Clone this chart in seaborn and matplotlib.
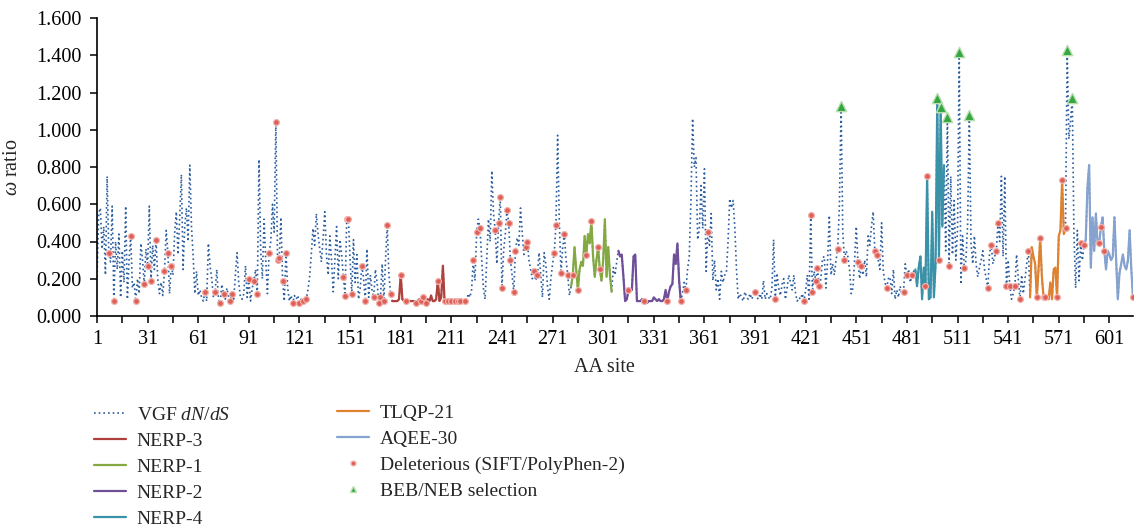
import numpy as np
import pandas as pd
import seaborn as sns
import matplotlib.pyplot as plt
from matplotlib.lines import Line2D

# omega (dN/dS) per amino-acid site (sites 1..615)
omega = [
    0.21, 0.55, 0.58, 0.36, 0.48, 0.22, 0.75, 0.34, 0.29, 0.59,
    0.08, 0.40, 0.25, 0.44, 0.10, 0.35, 0.18, 0.59, 0.09, 0.30,
    0.43, 0.15, 0.18, 0.08, 0.20, 0.12, 0.39, 0.30, 0.17, 0.36,
    0.27, 0.59, 0.19, 0.38, 0.25, 0.41, 0.20, 0.12, 0.18, 0.11,
    0.24, 0.46, 0.34, 0.12, 0.27, 0.22, 0.44, 0.56, 0.33, 0.52,
    0.76, 0.25, 0.48, 0.58, 0.40, 0.81, 0.48, 0.32, 0.12, 0.24,
    0.11, 0.14, 0.10, 0.08, 0.13, 0.08, 0.39, 0.27, 0.20, 0.10,
    0.13, 0.25, 0.09, 0.07, 0.17, 0.12, 0.09, 0.15, 0.10, 0.08,
    0.12, 0.08, 0.22, 0.34, 0.18, 0.10, 0.09, 0.12, 0.27, 0.10,
    0.20, 0.08, 0.15, 0.19, 0.25, 0.12, 0.84, 0.36, 0.20, 0.52,
    0.30, 0.12, 0.34, 0.40, 0.60, 0.45, 1.04, 0.30, 0.31, 0.53,
    0.19, 0.08, 0.34, 0.15, 0.08, 0.11, 0.07, 0.11, 0.09, 0.11,
    0.07, 0.09, 0.08, 0.10, 0.09, 0.14, 0.21, 0.33, 0.47, 0.38,
    0.55, 0.44, 0.36, 0.29, 0.42, 0.56, 0.33, 0.22, 0.43, 0.30,
    0.13, 0.30, 0.48, 0.20, 0.41, 0.33, 0.21, 0.11, 0.52, 0.52,
    0.30, 0.12, 0.41, 0.18, 0.33, 0.09, 0.15, 0.27, 0.20, 0.08,
    0.36, 0.10, 0.22, 0.14, 0.10, 0.25, 0.18, 0.07, 0.10, 0.28,
    0.08, 0.30, 0.49, 0.22, 0.12, 0.08, 0.08, 0.08, 0.08, 0.09,
    0.22, 0.09, 0.08, 0.08, 0.08, 0.08, 0.08, 0.08, 0.08, 0.07,
    0.08, 0.09, 0.08, 0.10, 0.08, 0.07, 0.09, 0.08, 0.11, 0.08,
    0.08, 0.09, 0.19, 0.08, 0.10, 0.27, 0.08, 0.08, 0.08, 0.08,
    0.08, 0.08, 0.08, 0.07, 0.08, 0.08, 0.08, 0.08, 0.08, 0.08,
    0.12, 0.10, 0.14, 0.30, 0.19, 0.45, 0.52, 0.47, 0.30, 0.15,
    0.09, 0.30, 0.52, 0.40, 0.78, 0.55, 0.46, 0.28, 0.50, 0.64,
    0.15, 0.35, 0.44, 0.57, 0.50, 0.30, 0.22, 0.13, 0.35, 0.42,
    0.38, 0.58, 0.45, 0.33, 0.37, 0.40, 0.30, 0.25, 0.20, 0.24,
    0.19, 0.22, 0.34, 0.22, 0.10, 0.34, 0.28, 0.16, 0.09, 0.20,
    0.28, 0.34, 0.49, 0.97, 0.50, 0.23, 0.37, 0.44, 0.30, 0.22,
    0.11, 0.16, 0.22, 0.37, 0.25, 0.14, 0.25, 0.29, 0.27, 0.43,
    0.33, 0.44, 0.39, 0.51, 0.32, 0.21, 0.30, 0.37, 0.25, 0.19,
    0.30, 0.52, 0.21, 0.37, 0.22, 0.13, 0.26, 0.22, 0.29, 0.35,
    0.32, 0.33, 0.21, 0.08, 0.09, 0.14, 0.14, 0.14, 0.32, 0.33,
    0.08, 0.08, 0.08, 0.09, 0.08, 0.08, 0.07, 0.08, 0.08, 0.08,
    0.10, 0.09, 0.08, 0.09, 0.08, 0.08, 0.09, 0.14, 0.08, 0.13,
    0.16, 0.17, 0.33, 0.28, 0.39, 0.19, 0.08, 0.12, 0.18, 0.14,
    0.25, 0.32, 0.62, 1.06, 0.80, 0.85, 0.41, 0.47, 0.70, 0.47,
    0.79, 0.24, 0.45, 0.38, 0.55, 0.19, 0.30, 0.14, 0.20, 0.09,
    0.24, 0.18, 0.22, 0.23, 0.40, 0.63, 0.58, 0.62, 0.48, 0.25,
    0.09, 0.12, 0.10, 0.08, 0.13, 0.10, 0.09, 0.12, 0.09, 0.11,
    0.13, 0.10, 0.09, 0.12, 0.09, 0.19, 0.09, 0.12, 0.10, 0.09,
    0.15, 0.41, 0.09, 0.23, 0.15, 0.11, 0.17, 0.20, 0.09, 0.15,
    0.22, 0.18, 0.14, 0.22, 0.12, 0.08, 0.10, 0.09, 0.12, 0.08,
    0.14, 0.22, 0.09, 0.54, 0.13, 0.24, 0.19, 0.26, 0.16, 0.20,
    0.31, 0.32, 0.15, 0.30, 0.54, 0.22, 0.28, 0.22, 0.30, 0.36,
    0.60, 1.13, 0.45, 0.30, 0.35, 0.32, 0.25, 0.12, 0.15, 0.30,
    0.48, 0.29, 0.20, 0.27, 0.22, 0.30, 0.21, 0.43, 0.38, 0.48,
    0.56, 0.35, 0.33, 0.30, 0.25, 0.50, 0.24, 0.18, 0.15, 0.20,
    0.21, 0.12, 0.25, 0.09, 0.14, 0.10, 0.16, 0.12, 0.13, 0.28,
    0.22, 0.25, 0.18, 0.22, 0.24, 0.25, 0.16, 0.26, 0.32, 0.09,
    0.26, 0.16, 0.75, 0.09, 0.10, 0.56, 0.10, 0.28, 1.17, 0.30,
    1.12, 0.48, 0.81, 0.35, 1.07, 0.27, 0.75, 0.33, 0.62, 0.30,
    0.46, 1.42, 0.17, 0.43, 0.26, 0.30, 0.50, 1.08, 0.39, 0.28,
    0.43, 0.28, 0.21, 0.26, 0.30, 0.35, 0.25, 0.20, 0.15, 0.34,
    0.38, 0.28, 0.32, 0.35, 0.50, 0.40, 0.75, 0.32, 0.75, 0.16,
    0.30, 0.16, 0.09, 0.12, 0.16, 0.33, 0.20, 0.09, 0.22, 0.12,
    0.20, 0.28, 0.35, 0.10, 0.37, 0.32, 0.28, 0.10, 0.25, 0.42,
    0.21, 0.10, 0.10, 0.10, 0.09, 0.18, 0.09, 0.25, 0.26, 0.10,
    0.43, 0.46, 0.73, 0.44, 0.47, 1.43, 0.95, 1.05, 1.17, 0.44,
    0.15, 0.46, 0.19, 0.39, 0.30, 0.38, 0.41, 0.69, 0.81, 0.26,
    0.53, 0.35, 0.55, 0.39, 0.39, 0.48, 0.53, 0.35, 0.25, 0.35,
    0.33, 0.30, 0.32, 0.53, 0.30, 0.09, 0.23, 0.28, 0.33, 0.27,
    0.25, 0.30, 0.46, 0.25, 0.10,
]
sites = list(range(1, len(omega) + 1))

# peptide regions (first site, last site)
peptide_names = ["NERP-3", "NERP-1", "NERP-2", "NERP-4", "TLQP-21", "AQEE-30"]
peptide_start = [176, 282, 310, 486, 554, 586]
peptide_end = [219, 306, 347, 503, 575, 615]

# sites flagged as deleterious and sites under BEB/NEB selection
deleterious_sites = [8, 11, 21, 24, 29, 31, 33, 36, 41, 43, 45, 65, 71, 74, 76, 80, 81,
                     91, 94, 96, 103, 107, 108, 109, 111, 113, 117, 121, 123, 125, 147,
                     148, 149, 150, 152, 158, 160, 165, 168, 169, 171, 173, 175, 181, 184,
                     190, 193, 194, 196, 203, 207, 209, 211, 213, 215, 216, 219, 224, 226,
                     228, 237, 239, 240, 241, 244, 245, 246, 248, 249, 255, 256, 260, 262,
                     272, 273, 276, 278, 280, 283, 286, 291, 294, 298, 299, 316, 325, 339,
                     347, 350, 363, 391, 403, 420, 424, 425, 427, 428, 429, 440, 444, 452,
                     454, 462, 463, 469, 479, 481, 484, 492, 493, 500, 506, 515, 529, 531,
                     534, 535, 540, 542, 545, 548, 553, 558, 560, 562, 563, 570, 573, 575,
                     584, 586, 595, 596, 598, 615]
selection_sites = [442, 499, 501, 505, 512, 518, 576, 579]

x_ticks = list(range(1, 602, 30))
y_ticks = [0.0, 0.2, 0.4, 0.6, 0.8, 1.0, 1.2, 1.4, 1.6]

# styles
vgf_color = "#2b5d9e"
peptide_colors = ["#b0403b", "#84a940", "#6e4f98", "#3a92a8", "#e0812f", "#86a2cf"]
del_color = "#dd5f58"
sel_color = "#35a640"
vgf_dots = (0, (1, 1.8))

sns.set_style("ticks")
plt.rcParams["font.family"] = ["Liberation Serif", "DejaVu Serif"]
plt.rcParams["mathtext.fontset"] = "custom"
plt.rcParams["mathtext.rm"] = "Liberation Serif"
plt.rcParams["mathtext.it"] = "Liberation Serif:italic"

df = pd.DataFrame({"site": sites, "omega": omega})

fig = plt.figure(figsize=(11.35, 5.28), dpi=100)
ax = fig.add_axes([97 / 1135, 1 - 316 / 528, 1036 / 1135, 298 / 528])

sns.lineplot(data=df, x="site", y="omega", ax=ax, color=vgf_color,
             linestyle=vgf_dots, linewidth=1.2, zorder=2)

for name, a, b, c in zip(peptide_names, peptide_start, peptide_end, peptide_colors):
    seg = df[(df["site"] >= a) & (df["site"] <= b)]
    sns.lineplot(data=seg, x="site", y="omega", ax=ax, color=c, linewidth=1.6, zorder=3)

sns.scatterplot(data=df[df["site"].isin(deleterious_sites)], x="site", y="omega", ax=ax,
                marker="o", s=18, color=del_color, edgecolor="#f2b3ad", linewidth=0.9,
                zorder=5)
sns.scatterplot(data=df[df["site"].isin(selection_sites)], x="site", y="omega", ax=ax,
                marker="^", s=55, color=sel_color, edgecolor="#b9dfb1", linewidth=1.0,
                zorder=6)

ax.set_xlim(1, 615)
ax.set_ylim(0, 1.6)
ax.set_xticks(x_ticks)
ax.set_xticks(range(16, 616, 30), minor=True)
ax.set_yticks(y_ticks)
ax.set_yticklabels([f"{v:.3f}" for v in y_ticks])
ax.tick_params(axis="both", which="both", direction="out", length=5, width=1.1,
               labelsize=14.5, colors="black")
ax.tick_params(axis="y", pad=6)
ax.tick_params(axis="x", pad=5)
for side in ["top", "right"]:
    ax.spines[side].set_visible(False)
for side in ["left", "bottom"]:
    ax.spines[side].set_linewidth(1.2)
    ax.spines[side].set_color("black")

ax.set_xlabel("AA site", fontsize=14.5)
ax.xaxis.set_label_coords((604 - 97) / 1036, -0.14)
ax.set_ylabel(r"$\omega$ ratio", fontsize=14.5, labelpad=10)

# legend, two columns under the plot
h1 = [Line2D([], [], color=vgf_color, linestyle=vgf_dots, linewidth=1.2)]
h1 += [Line2D([], [], color=c, linewidth=1.6) for c in peptide_colors[:4]]
l1 = [r"VGF $dN/dS$"] + peptide_names[:4]
h2 = [Line2D([], [], color=c, linewidth=1.6) for c in peptide_colors[4:]]
h2 += [Line2D([], [], linestyle="none", marker="o", markersize=3.5, color=del_color,
              markeredgecolor="#f2b3ad"),
       Line2D([], [], linestyle="none", marker="^", markersize=5, color=sel_color,
              markeredgecolor="#b9dfb1")]
l2 = peptide_names[4:] + ["Deleterious (SIFT/PolyPhen-2)", "BEB/NEB selection"]

leg_kw = dict(frameon=False, fontsize=14, handlelength=1.65, handletextpad=0.55,
              labelspacing=0.44, borderpad=0, borderaxespad=0, loc="upper left")
fig.legend(h1, l1, bbox_to_anchor=(94 / 1135, 1 - 406 / 528), **leg_kw)
fig.legend(h2, l2, bbox_to_anchor=(337 / 1135, 1 - 404 / 528), **leg_kw)

fig.savefig("out.png", dpi=100)
